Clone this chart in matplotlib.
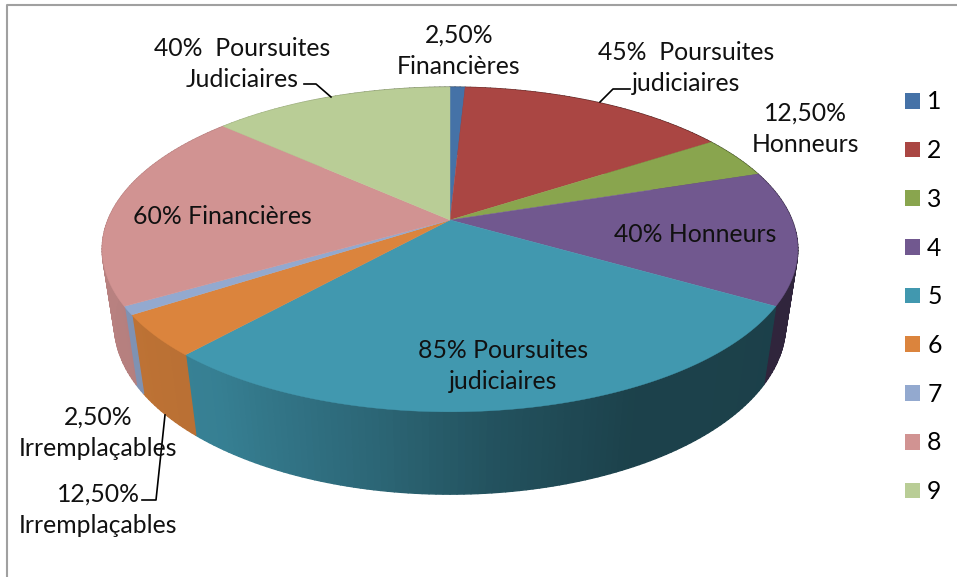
"""Tilted 3D-look pie of nine categories, drawn as projected polygons."""
import matplotlib
matplotlib.use("Agg")
import matplotlib.pyplot as plt
import numpy as np
from matplotlib.collections import PolyCollection
from matplotlib.patches import Patch

plt.rcParams["font.family"] = ["Lato", "DejaVu Sans"]

# data
categories = ["1", "2", "3", "4", "5", "6", "7", "8", "9"]
values = [2.5, 45, 12.5, 40, 85, 12.5, 2.5, 60, 40]
colors = ["#4572a7", "#aa4643", "#89a54e", "#71588f", "#4198af",
          "#db843d", "#93a9cf", "#d19392", "#b9cd96"]
slice_labels = [
    "2,50%\nFinancières", "45%  Poursuites\njudiciaires", "12,50%\nHonneurs",
    "40% Honneurs", "85% Poursuites\njudiciaires", "12,50%\nIrremplaçables",
    "2,50%\nIrremplaçables", "60% Financières", "40%  Poursuites\nJudiciaires",
]

# where each label sits, in image pixels
LABEL_POS = [(459, 51), (686, 68), (805, 129), (695, 235), (503, 366),
             (98, 510), (98, 433), (222, 217), (242, 64)]
LEADERS = [([304, 316, 331], [84, 84, 97]),
           ([630, 613, 600], [89, 89, 102]),
           ([142, 156, 165], [500, 500, 415])]

# projection of the disc
CX, CY = 450, 220
RX, RY = 342, 157
PERSP, DROP, DEPTH = 0.1815, 0.035, 77.0
FONT = 17.8


def project(theta, z=0.0):
    """theta clockwise from the top of the disc, z=1 is the underside."""
    u, v = np.sin(theta), np.cos(theta)
    s = 1 / (1 + PERSP * v + DROP * z)
    return CX + RX * u * s, CY - RY * v * s + DEPTH * z * s


def wall_shade(theta):
    # light comes from the left, wall goes dark to the right
    return np.interp(np.sin(theta), [-1, -0.6, -0.2, 0.1, 0.45, 1],
                     [0.88, 0.84, 0.68, 0.54, 0.43, 0.42])


fig = plt.figure(figsize=(9.57, 5.77), dpi=100)
ax = fig.add_axes([0, 0, 1, 1])
ax.set_xlim(0, 957)
ax.set_ylim(577, 0)
ax.axis("off")

# frame of the chart: only top and left survive in the picture
ax.plot([7, 7, 957], [577, 5, 5], color="#a0a0a0", lw=1.5, zorder=1)

edges = np.radians(np.cumsum([0] + values) / np.sum(values) * 360)

# outer wall first, top surface covers whatever is behind
strips, strip_cols = [], []
for i, col in enumerate(colors):
    base = np.array(matplotlib.colors.to_rgb(col))
    n = max(3, int(np.degrees(edges[i + 1] - edges[i])))
    ts = np.linspace(edges[i], edges[i + 1], n + 1)
    for a, b in zip(ts[:-1], ts[1:]):
        xa0, ya0 = project(a)
        xb0, yb0 = project(b)
        xa1, ya1 = project(a, 1)
        xb1, yb1 = project(b, 1)
        strips.append([(xa0, ya0), (xb0, yb0), (xb1, yb1), (xa1, ya1)])
        strip_cols.append(base * wall_shade((a + b) / 2))
ax.add_collection(PolyCollection(strips, facecolors=strip_cols, edgecolors=strip_cols,
                                 linewidths=1.0, zorder=2))

for i, col in enumerate(colors):
    ts = np.linspace(edges[i], edges[i + 1], 120)
    xs, ys = project(ts)
    ax.fill(np.r_[CX, xs], np.r_[CY, ys], color=col, lw=0.3, zorder=3)

for xs, ys in LEADERS:
    ax.plot(xs, ys, color="black", lw=1.2, zorder=4)

for lab, (x, y) in zip(slice_labels, LABEL_POS):
    ax.text(x, y, lab, ha="center", va="center", fontsize=FONT, color="#111111",
            linespacing=1.42, zorder=5)

handles = [Patch(facecolor=c, edgecolor="none") for c in colors]
ax.legend(handles, categories, loc="upper left", bbox_to_anchor=(898, 83),
          bbox_transform=ax.transData, frameon=False, fontsize=FONT,
          handlelength=0.6, handleheight=0.6, handletextpad=0.28,
          labelspacing=1.04, borderpad=0, borderaxespad=0.3)

fig.savefig("out.png", dpi=100)
